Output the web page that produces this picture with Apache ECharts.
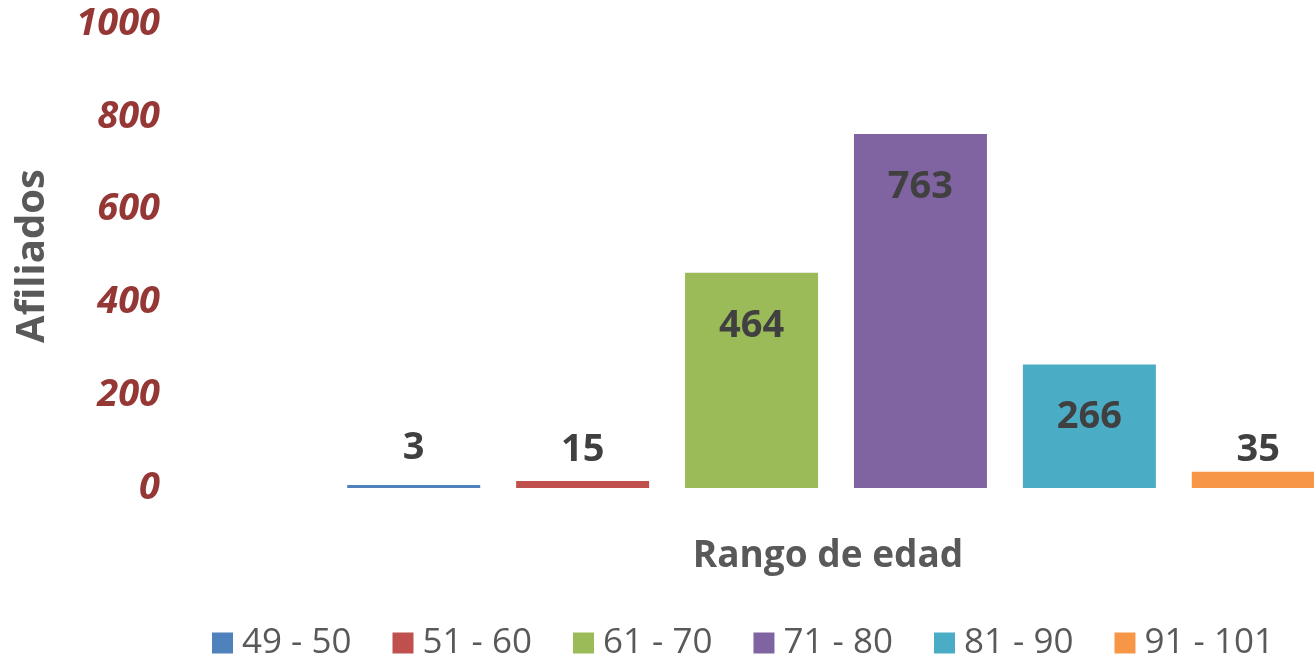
<!DOCTYPE html>
<html>
<head>
<meta charset="utf-8">
<script src="https://cdn.jsdelivr.net/npm/echarts@6/dist/echarts.min.js"></script>
<style>
  html, body { margin: 0; padding: 0; background: #fff; }
  #chart { width: 1314px; height: 659px; }
</style>
</head>
<body>
<div id="chart"></div>
<script>
var rangos = ['49 - 50', '51 - 60', '61 - 70', '71 - 80', '81 - 90', '91 - 101'];
var afiliados = [3, 15, 464, 763, 266, 35];
var colores = ['#4F81BD', '#C0504D', '#9BBB59', '#8064A2', '#4BACC6', '#F79646'];
var yTicks = { min: 0, max: 1000, interval: 200 };

var font = "'Open Sans', 'Liberation Sans', sans-serif";

// etiquetas: dentro arriba en barras altas, encima en las bajas
var labelDist = [17, 11, 0, 0, 0, 2];

var myChart = echarts.init(document.getElementById('chart'));

var series = [];
for (var i = 0; i < rangos.length; i++) {
    var alta = afiliados[i] > 100;
    series.push({
        name: rangos[i],
        type: 'bar',
        clip: false,
        barWidth: 133,
        barGap: '27%',
        barMinHeight: 3,
        itemStyle: { color: colores[i] },
        label: {
            show: true,
            position: alta ? 'insideTop' : 'top',
            distance: labelDist[i],
            offset: alta ? [0, 33] : [0, 0],
            color: '#404040',
            fontFamily: font,
            fontWeight: 'bold',
            fontSize: 38,
            lineHeight: 40
        },
        data: [afiliados[i]]
    });
}

var option = {
    animation: false,
    textStyle: { fontFamily: font },
    grid: { left: 358, right: 0, top: 24, bottom: 171, containLabel: false, outerBoundsMode: 'none' },
    legend: {
        data: rangos,
        left: 207,
        top: 620,
        icon: 'rect',
        itemWidth: 21,
        itemHeight: 21,
        itemGap: 41,
        textStyle: { color: '#595959', fontSize: 35, fontFamily: font, lineHeight: 36, padding: [0, 0, 0, 4] }
    },
    xAxis: {
        type: 'category',
        data: [''],
        name: 'Rango de edad',
        nameLocation: 'middle',
        nameGap: 50,
        nameTextStyle: { color: '#595959', fontSize: 37, fontWeight: 'bold', fontFamily: font, padding: [0, 16, 0, 0] },
        axisLine: { show: false },
        axisTick: { show: false },
        axisLabel: { show: false }
    },
    yAxis: {
        type: 'value',
        min: yTicks.min,
        max: yTicks.max,
        interval: yTicks.interval,
        offset: 188,
        name: 'Afiliados',
        nameLocation: 'middle',
        nameRotate: 90,
        nameGap: 117,
        nameTextStyle: { color: '#595959', fontSize: 40, fontWeight: 'bold', fontFamily: font },
        splitLine: { show: false },
        axisLine: { show: false },
        axisTick: { show: false },
        axisLabel: {
            margin: 10,
            color: '#953735',
            fontSize: 38,
            fontWeight: 'bold',
            fontStyle: 'italic',
            fontFamily: font,
            formatter: function (v) { return String(v); }
        }
    },
    series: series
};

myChart.setOption(option);
</script>
</body>
</html>
